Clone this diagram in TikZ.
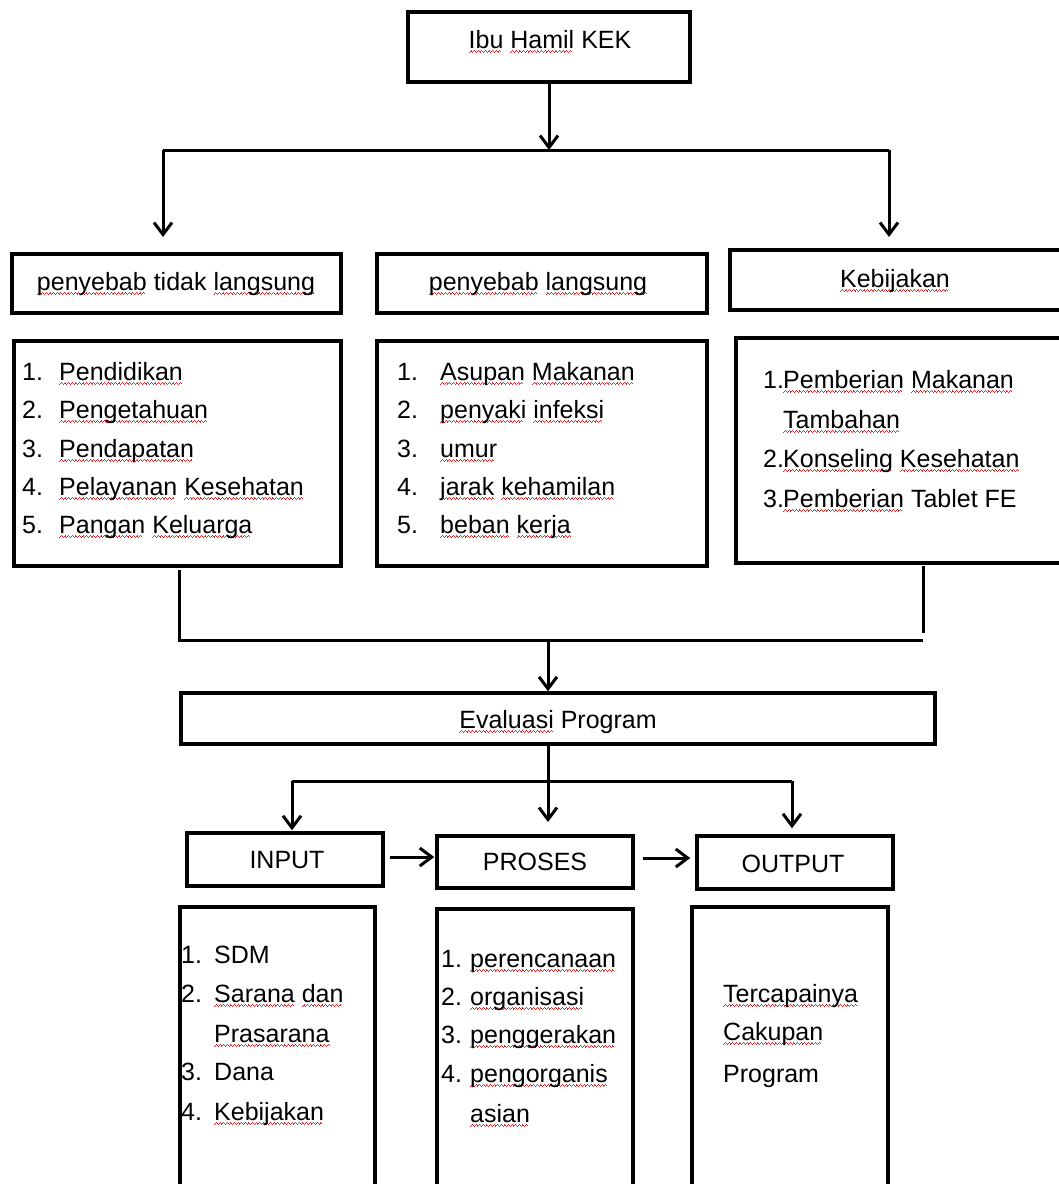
\documentclass[tikz,border=0pt]{standalone}
\usepackage{fontspec}
\setmainfont{Liberation Sans}
\usetikzlibrary{arrows.meta}
\definecolor{sqred}{RGB}{228,40,40}
\newcommand\wv[1]{\lower#1\hbox{\vrule width 0.9pt height 0.8pt depth 0pt}}
\newcommand\wavepiece{\hbox{\wv{4.6pt}\wv{3.9pt}\wv{3.2pt}\wv{3.9pt}}}
\newsavebox\sqbox
\newcommand\sq[1]{\sbox\sqbox{#1}\rlap{\color{sqred}\hbox to\wd\sqbox{\leaders\wavepiece\hfill}}\usebox\sqbox}
\begin{document}
\begin{tikzpicture}[x=1pt,y=-1pt,
  box/.style={draw, line width=3.5pt, inner sep=0pt},
  txt/.style={inner sep=0pt, anchor=base west, font=\fontsize{25}{30}\selectfont},
  ctxt/.style={txt, anchor=base},
  con/.style={line width=3pt},
  arr/.style={con, -{Straight Barb[length=12pt,width=18pt]}}]
\fill[white] (0,0) rectangle (1059,1184);
\useasboundingbox (0,0) rectangle (1059,1184);
\clip (0,0) rectangle (1059,1184);

% boxes
\node[box, minimum width=282pt, minimum height=70pt] (top) at (549,47) {};
\node[box, minimum width=329pt, minimum height=59pt] (b1t) at (176.5,283.5) {};
\node[box, minimum width=330pt, minimum height=59pt] (b2t) at (542,283.5) {};
\node[box, minimum width=340pt, minimum height=60pt] (b3t) at (900,280) {};
\node[box, minimum width=327pt, minimum height=225pt] (b1l) at (177.5,453.5) {};
\node[box, minimum width=330pt, minimum height=225pt] (b2l) at (542,453.5) {};
\node[box, minimum width=334pt, minimum height=225pt] (b3l) at (903,450.5) {};
\node[box, minimum width=754pt, minimum height=51pt] (eval) at (558,718.5) {};
\node[box, minimum width=196pt, minimum height=53pt] (inp) at (285,859.5) {};
\node[box, minimum width=196pt, minimum height=52pt] (pro) at (535,862) {};
\node[box, minimum width=196pt, minimum height=53pt] (outp) at (795,862.5) {};
\node[box, minimum width=195pt, minimum height=293pt] (inl) at (277.5,1053.5) {};
\node[box, minimum width=196pt, minimum height=291pt] (prl) at (535,1054.5) {};
\node[box, minimum width=196pt, minimum height=293pt] (outl) at (790,1053.5) {};

% titles
\node[ctxt] (ttop) at (550,48) {\sq{Ibu} \sq{Hamil} KEK};
\node[ctxt] (tb1) at (176,290) {\sq{penyebab} tidak \sq{langsung}};
\node[ctxt] (tb2) at (538,290) {\sq{penyebab} \sq{langsung}};
\node[ctxt] (tb3) at (895,287) {\sq{Kebijakan}};
\node[ctxt] (tev) at (558,728) {\sq{Evaluasi} Program};
\node[ctxt] (tin) at (287,868) {INPUT};
\node[ctxt] (tpr) at (535,870) {PROSES};
\node[ctxt] (tou) at (793,872) {OUTPUT};

% list 1
\node[txt] (l1a) at (22,380) {\makebox[37pt][l]{1.}\sq{Pendidikan}};
\node[txt] (l1b) at (22,418) {\makebox[37pt][l]{2.}\sq{Pengetahuan}};
\node[txt] (l1c) at (22,457) {\makebox[37pt][l]{3.}\sq{Pendapatan}};
\node[txt] (l1d) at (22,495) {\makebox[37pt][l]{4.}\sq{Pelayanan} \sq{Kesehatan}};
\node[txt] (l1e) at (22,533) {\makebox[37pt][l]{5.}\sq{Pangan} \sq{Keluarga}};
% list 2
\node[txt] (l2a) at (397,380) {\makebox[43pt][l]{1.}\sq{Asupan} \sq{Makanan}};
\node[txt] (l2b) at (397,418) {\makebox[43pt][l]{2.}\sq{penyaki} \sq{infeksi}};
\node[txt] (l2c) at (397,457) {\makebox[43pt][l]{3.}\sq{umur}};
\node[txt] (l2d) at (397,495) {\makebox[43pt][l]{4.}\sq{jarak} \sq{kehamilan}};
\node[txt] (l2e) at (397,533) {\makebox[43pt][l]{5.}\sq{beban} \sq{kerja}};
% list 3
\node[txt] (l3a) at (763,388) {\makebox[20pt][l]{1.}\sq{Pemberian} \sq{Makanan}};
\node[txt] (l3b) at (783,428) {\sq{Tambahan}};
\node[txt] (l3c) at (763,467) {\makebox[20pt][l]{2.}\sq{Konseling} \sq{Kesehatan}};
\node[txt] (l3d) at (763,507) {\makebox[20pt][l]{3.}\sq{Pemberian} Tablet FE};
% input list
\node[txt] (ia) at (181,963) {\makebox[33pt][l]{1.}SDM};
\node[txt] (ib) at (181,1002) {\makebox[33pt][l]{2.}\sq{Sarana} \sq{dan}};
\node[txt] (ic) at (214,1042) {\sq{Prasarana}};
\node[txt] (id) at (181,1080) {\makebox[33pt][l]{3.}Dana};
\node[txt] (ie) at (181,1120) {\makebox[33pt][l]{4.}\sq{Kebijakan}};
% proses list
\node[txt] (pa) at (441,967) {\makebox[29pt][l]{1.}\sq{perencanaan}};
\node[txt] (pb) at (441,1005) {\makebox[29pt][l]{2.}\sq{organisasi}};
\node[txt] (pc) at (441,1043) {\makebox[29pt][l]{3.}\sq{penggerakan}};
\node[txt] (pd) at (441,1082) {\makebox[29pt][l]{4.}\sq{pengorganis}};
\node[txt] (pe) at (470,1122) {\sq{asian}};
% output list
\node[txt] (oa) at (723,1002) {\sq{Tercapainya}};
\node[txt] (ob) at (723,1040) {\sq{Cakupan}};
\node[txt] (oc) at (723,1082) {Program};

% connectors top
\coordinate (j1) at (549,150);
\coordinate (hl) at (163,150);
\coordinate (hr) at (889,150);
\coordinate (al) at (163,237);
\coordinate (ar) at (889,237);
\draw[arr] (top.south) -- (j1);
\draw[con] (hl) -- (hr);
\draw[arr] (hl) -- (al);
\draw[arr] (hr) -- (ar);

% connectors middle
\coordinate (s1) at (179,570);
\coordinate (m1) at (179,640);
\coordinate (m3) at (923,640);
\coordinate (s3) at (923,566);
\coordinate (e3) at (923,633);
\coordinate (j2) at (548,640);
\draw[con] (s1) -- (m1) -- (m3);
\draw[con] (s3) -- (e3);
\draw[arr] (j2) -- (j2 |- eval.north);

% connectors bottom
\coordinate (e1) at (548,822);
\coordinate (k1) at (292,781);
\coordinate (k2) at (792,781);
\draw[arr] (eval.south -| j2) -- (e1);
\draw[con] (k1) -- (k2);
\draw[arr] (k1) -- ([yshift=1pt]k1 |- inp.north);
\draw[arr] (k2) -- ([yshift=6pt]k2 |- outp.north);
\draw[arr] ([xshift=5pt]inp.east |- 0,857) -- ([xshift=-1pt]pro.west |- 0,857);
\draw[arr] ([xshift=8pt]pro.east |- 0,858) -- ([xshift=-5pt]outp.west |- 0,858);
\end{tikzpicture}
\end{document}
